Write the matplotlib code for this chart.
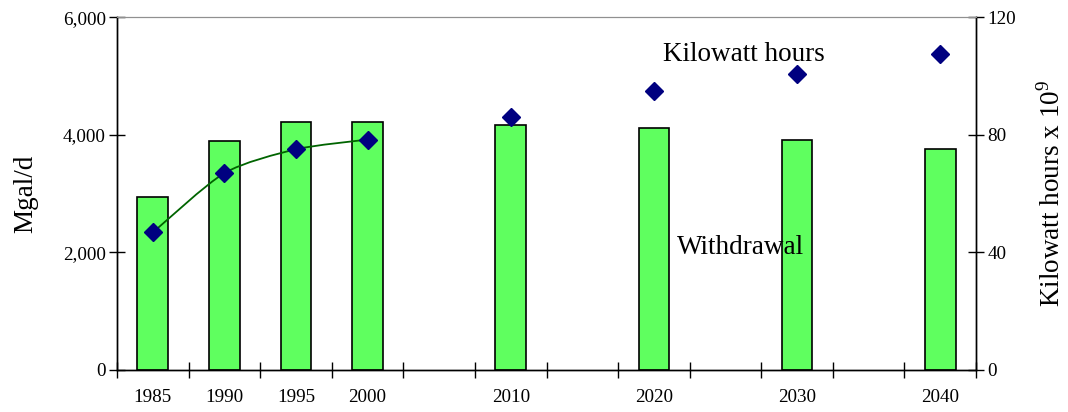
import matplotlib
matplotlib.use("Agg")
import matplotlib.pyplot as plt
import numpy as np
from matplotlib.path import Path
from matplotlib.patches import PathPatch

plt.rcParams['font.family'] = ['Liberation Serif', 'DejaVu Serif']
plt.rcParams['mathtext.fontset'] = 'custom'
plt.rcParams['mathtext.rm'] = 'Liberation Serif'

# Category axis: five-year slots, some without data
categories = ["1985", "1990", "1995", "2000", "", "2010", "", "2020", "", "2030", "", "2040"]
withdrawal = [2940, 3890, 4215, 4215, None, 4165, None, 4120, None, 3920, None, 3755]   # Mgal/d
kwh = [46.8, 67.0, 75.1, 78.4, None, 86.1, None, 94.8, None, 100.7, None, 107.4]     # kWh x 1e9
# Historical points joined by a smoothed line
line_slots = 4

fig = plt.figure(figsize=(10.68, 4.12), dpi=100)
ax = fig.add_axes([0.1096, 0.102, 0.8043, 0.856])
ax2 = ax.twinx()

x = np.arange(len(categories))
bx = [i for i, v in zip(x, withdrawal) if v is not None]
bv = [v for v in withdrawal if v is not None]
ax.bar(bx, bv, width=0.43, color="#5FFF5F", edgecolor="black", linewidth=1.2, zorder=2)

px = np.array([i for i, v in zip(x, kwh) if v is not None], dtype=float)
pv = np.array([v for v in kwh if v is not None], dtype=float)

# Smoothed connector (Catmull-Rom as cubic Bezier) through the historical points
lx, ly = px[:line_slots], pv[:line_slots]
verts = [(lx[0], ly[0])]
codes = [Path.MOVETO]
n = len(lx)
for i in range(n - 1):
    p0 = np.array([lx[max(i - 1, 0)], ly[max(i - 1, 0)]])
    p1 = np.array([lx[i], ly[i]])
    p2 = np.array([lx[i + 1], ly[i + 1]])
    p3 = np.array([lx[min(i + 2, n - 1)], ly[min(i + 2, n - 1)]])
    c1 = p1 + (p2 - p0) / 8.0
    c2 = p2 - (p3 - p1) / 8.0
    verts += [tuple(c1), tuple(c2), tuple(p2)]
    codes += [Path.CURVE4] * 3
ax2.add_patch(PathPatch(Path(verts, codes), facecolor="none", edgecolor="#006400",
                        linewidth=1.3, zorder=3))
ax2.plot(px, pv, linestyle="none", marker="D", markersize=9, color="#000080", zorder=4)

ax.set_xlim(-0.5, len(categories) - 0.5)
ax.set_ylim(0, 6000)
ax2.set_ylim(0, 120)
ax.set_yticks([0, 2000, 4000, 6000])
ax.set_yticklabels(["0", "2,000", "4,000", "6,000"])
ax2.set_yticks([0, 40, 80, 120])

ax.set_xticks(x)
ax.set_xticklabels(categories)
ax.set_xticks(np.arange(len(categories) + 1) - 0.5, minor=True)
ax.tick_params(axis="x", which="major", length=0, pad=14, labelsize=13.8)
ax.tick_params(axis="x", which="minor", length=12, direction="inout", width=1.0)
ax.tick_params(axis="y", length=12, direction="inout", labelsize=13.8, width=1.0, pad=2)
ax2.tick_params(axis="y", length=12, direction="inout", labelsize=13.8, width=1.0, pad=2)

for a in (ax, ax2):
    a.spines["top"].set_color("#909090")
    a.spines["left"].set_linewidth(1.0)
    a.spines["right"].set_linewidth(1.0)
    a.spines["bottom"].set_linewidth(1.0)

ax.set_ylabel("Mgal/d", fontsize=19.5, labelpad=18)
ax2.set_ylabel("Kilowatt hours x 10$^{9}$", fontsize=19.5, labelpad=16)

ax2.text(8.26, 107.2, "Kilowatt hours", fontsize=19.5, ha="center", va="center", zorder=5)
ax.text(8.21, 2080, "Withdrawal", fontsize=19.5, ha="center", va="center", zorder=5)

fig.savefig("out.png", dpi=100)
